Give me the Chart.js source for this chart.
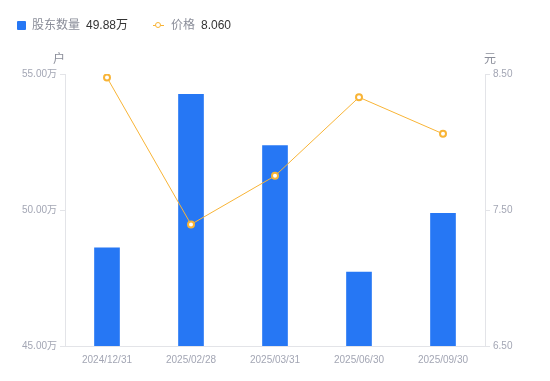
<!DOCTYPE html>
<html>
<head>
<meta charset="utf-8">
<script src="https://cdn.jsdelivr.net/npm/chart.js@4"></script>
<style>
  html, body { margin: 0; padding: 0; background: #fff; }
  #wrap { position: relative; width: 550px; height: 381px; font-family: "Liberation Sans", Arial, "Noto Sans CJK SC", sans-serif; }
  canvas { position: absolute; left: 0; top: 0; }
  .lg { position: absolute; top: 17px; height: 16px; line-height: 16px; font-size: 12px; white-space: nowrap; display: flex; align-items: center; }
  .lg .name { color: #8a8d99; margin-right: 6px; }
  .lg .val { color: #333; }
  .sq { width: 9px; height: 9px; background: #2677F4; border-radius: 1px; margin-right: 6px; }
  .mk { position: relative; width: 11px; height: 9px; margin-right: 7px; }
  .mk .ln { position: absolute; left: 0; top: 4px; width: 11px; height: 1px; background: #F8B436; }
  .mk .dot { position: absolute; left: 2px; top: 1px; width: 4px; height: 4px; border: 1.5px solid #F8B436; border-radius: 50%; background: #fff; }
  .unit { position: absolute; top: 49px; font-size: 12px; color: #8a8d99; }
</style>
</head>
<body>
<div id="wrap">
  <canvas id="c" width="550" height="381"></canvas>
  <div class="lg" style="left:17px;"><div class="sq"></div><span class="name" id="n1"></span><span class="val" id="v1"></span></div>
  <div class="lg" style="left:153px;"><div class="mk"><div class="ln"></div><div class="dot"></div></div><span class="name" id="n2"></span><span class="val" id="v2"></span></div>
  <div class="unit" style="left:53px;">户</div>
  <div class="unit" style="left:484px;">元</div>
</div>
<script>
const categories = ['2024/12/31', '2025/02/28', '2025/03/31', '2025/06/30', '2025/09/30'];
const holderName = '股东数量';
const holders = [48.61, 54.25, 52.37, 47.72, 49.88]; // 万户
const priceName = '价格';
const prices = [8.474, 7.394, 7.751, 8.329, 8.060]; // 元
const leftTicks = [45, 50, 55];
const rightTicks = [6.5, 7.5, 8.5];

document.getElementById('n1').textContent = holderName;
document.getElementById('v1').textContent = holders[holders.length - 1].toFixed(2) + '万';
document.getElementById('n2').textContent = priceName;
document.getElementById('v2').textContent = prices[prices.length - 1].toFixed(3);

const axisColor = '#e3e4e8';
const tickColor = '#a3a6b4';
const tickFont = { family: '"Liberation Sans", Arial, "Noto Sans CJK SC", sans-serif', size: 10 };

new Chart(document.getElementById('c'), {
  data: {
    labels: categories,
    datasets: [
      {
        type: 'line',
        label: priceName,
        data: prices,
        yAxisID: 'yR',
        borderColor: '#F8B436',
        borderWidth: 1,
        pointRadius: 3,
        pointBorderWidth: 2,
        pointBackgroundColor: '#ffffff',
        pointBorderColor: '#F8B436',
        tension: 0,
        order: 0
      },
      {
        type: 'bar',
        label: holderName,
        data: holders,
        yAxisID: 'yL',
        backgroundColor: '#2677F4',
        barThickness: 25,
        order: 1
      }
    ]
  },
  options: {
    responsive: false,
    animation: false,
    devicePixelRatio: 1,
    layout: { padding: { top: 74, left: 0, right: 0, bottom: 0 } },
    plugins: { legend: { display: false }, tooltip: { enabled: false } },
    scales: {
      x: {
        grid: { display: false },
        border: { display: true, color: axisColor },
        ticks: { color: tickColor, font: tickFont, padding: 0, maxRotation: 0 },
        afterFit: s => { s.height = 35; }
      },
      yL: {
        position: 'left',
        min: leftTicks[0],
        max: leftTicks[leftTicks.length - 1],
        afterBuildTicks: s => { s.ticks = leftTicks.map(v => ({ value: v })); },
        grid: { drawOnChartArea: false, drawTicks: true, tickLength: 5, color: axisColor },
        border: { display: true, color: axisColor },
        ticks: { color: tickColor, font: tickFont, padding: 3, callback: v => Number(v).toFixed(2) + '万' },
        afterFit: s => { s.width = 65; }
      },
      yR: {
        position: 'right',
        min: rightTicks[0],
        max: rightTicks[rightTicks.length - 1],
        afterBuildTicks: s => { s.ticks = rightTicks.map(v => ({ value: v })); },
        grid: { drawOnChartArea: false, drawTicks: true, tickLength: 5, color: axisColor },
        border: { display: true, color: axisColor },
        ticks: { color: tickColor, font: tickFont, padding: 3, callback: v => Number(v).toFixed(2) },
        afterFit: s => { s.width = 65; }
      }
    }
  }
});
</script>
</body>
</html>
